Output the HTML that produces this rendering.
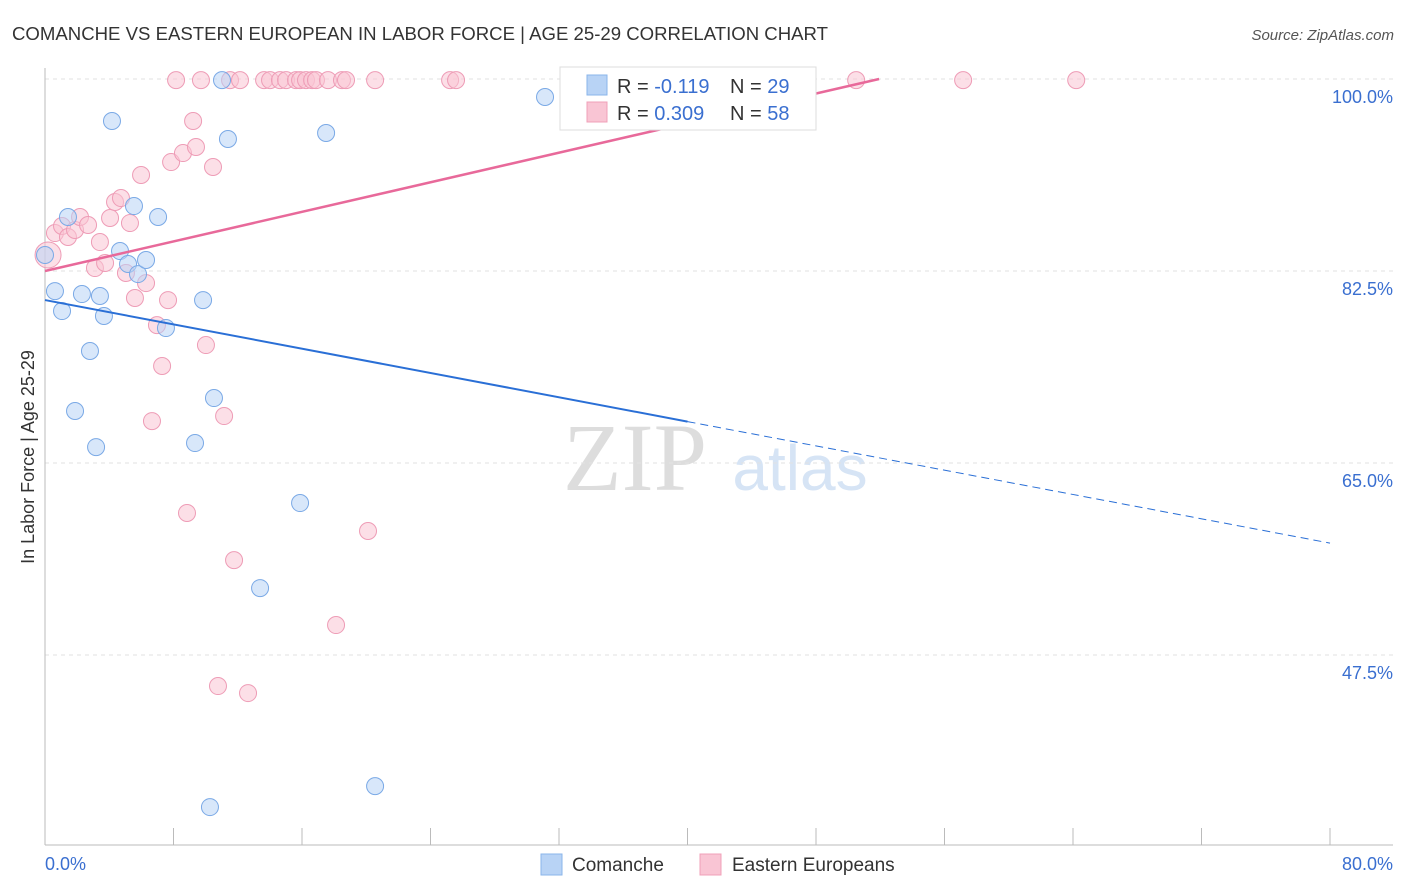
<!DOCTYPE html>
<html><head><meta charset="utf-8"><style>
body{margin:0;background:#fff;font-family:"Liberation Sans",sans-serif;}
svg{display:block}
</style></head><body>
<svg id="c" width="1406" height="892" xmlns="http://www.w3.org/2000/svg">
<text x="12" y="40" font-size="18.6" fill="#333" textLength="816">COMANCHE VS EASTERN EUROPEAN IN LABOR FORCE | AGE 25-29 CORRELATION CHART</text>
<text x="1394" y="40" font-size="15" font-style="italic" fill="#555" text-anchor="end">Source: ZipAtlas.com</text>
<text x="635" y="490" font-size="96" font-family="Liberation Serif" fill="#ddd" text-anchor="middle">ZIP</text>
<text x="800" y="490" font-size="64" fill="#d6e4f5" text-anchor="middle">atlas</text>
<text transform="translate(34,457) rotate(-90)" font-size="18" fill="#333" text-anchor="middle">In Labor Force | Age 25-29</text>
<g id="grid"></g><g id="marks"></g>
<g>
<rect x="560" y="67" width="256" height="63" fill="#fff" stroke="#ddd"/>
<rect x="587" y="75" width="20" height="20" fill="#b8d3f5" stroke="#8ab4ea"/>
<rect x="587" y="102" width="20" height="20" fill="#f9c5d4" stroke="#f0a0b8"/>
<text x="617" y="93" font-size="20" fill="#333">R = <tspan fill="#3a6fd0">-0.119</tspan><tspan x="730">N = </tspan><tspan fill="#3a6fd0">29</tspan></text>
<text x="617" y="120" font-size="20" fill="#333">R = <tspan fill="#3a6fd0">0.309</tspan><tspan x="730">N = </tspan><tspan fill="#3a6fd0">58</tspan></text>
</g>
<g>
<rect x="541" y="854" width="21" height="21" fill="#b8d3f5" stroke="#8ab4ea"/>
<text x="572" y="871" font-size="19" fill="#333">Comanche</text>
<rect x="700" y="854" width="21" height="21" fill="#f9c5d4" stroke="#f0a0b8"/>
<text x="732" y="871" font-size="19" fill="#333">Eastern Europeans</text>
</g>
<text x="45" y="870" font-size="18" fill="#3a6fd0">0.0%</text>
<text x="1393" y="870" font-size="18" fill="#3a6fd0" text-anchor="end">80.0%</text>
</svg>
<script>
const yTicks=[100,82.5,65,47.5];
const yTickLabels=["100.0%","82.5%","65.0%","47.5%"];
const blueX=[0,0.62,1.06,1.43,1.87,2.30,2.80,3.18,3.42,3.67,4.17,4.67,5.17,5.54,5.79,6.29,7.04,7.53,9.34,9.84,10.27,10.52,11.02,11.39,13.39,15.88,17.5,20.55,31.13];
const blueY=[83.96,80.67,78.85,87.42,69.74,80.40,75.21,66.45,80.22,78.40,96.17,84.32,83.14,88.42,82.22,83.50,87.42,77.30,66.82,79.85,33.64,70.92,99.9,94.53,53.60,61.35,95.08,35.55,98.36];
const pinkX=[0.19,0.62,1.06,1.43,1.87,2.18,2.68,3.11,3.42,3.74,4.05,4.36,4.73,5.04,5.29,5.60,5.98,6.29,6.66,6.97,7.29,7.66,7.85,8.16,8.59,8.84,9.22,9.40,9.71,10.02,10.46,10.77,11.15,11.52,11.77,12.14,12.64,13.64,14.01,14.63,15.01,15.63,15.88,16.25,16.63,16.87,17.62,18.12,18.49,18.74,20.11,20.55,25.22,25.59,45.02,50.5,57.16,64.2];
const pinkY=[83.96,85.96,86.6,85.6,86.24,87.42,86.69,82.77,85.14,83.23,87.33,88.79,89.15,82.32,86.87,80.04,91.25,81.4,68.82,77.57,73.84,79.85,92.43,99.9,93.25,60.44,96.17,93.8,99.9,75.75,91.98,44.67,69.28,99.9,56.15,99.9,44.03,99.9,99.9,99.9,99.9,99.9,99.9,99.9,99.9,99.9,99.9,50.23,99.9,99.9,58.8,99.9,99.9,99.9,99.9,99.9,99.9,99.9];
const blueTrend=[79.85,57.7];
const pinkTrend=[82.5,0.337];
const NS="http://www.w3.org/2000/svg";
const X=v=>45+v*1285/80, Y=v=>79+(100-v)*192/17.5;
function mk(t,a,p){const e=document.createElementNS(NS,t);for(const k in a)e.setAttribute(k,a[k]);p.appendChild(e);return e;}
const g=document.getElementById('grid'),m=document.getElementById('marks');
yTicks.forEach((t,i)=>{
 const l=mk('line',{x1:45,x2:1393,y1:Y(t),y2:Y(t),stroke:'#e2e2e2','stroke-dasharray':'4,4'},g);
 
 
 const tx=mk('text',{x:1393,y:Y(t)+24,'font-size':18,fill:'#3a6fd0','text-anchor':'end'},g);
 tx.textContent=yTickLabels[i];
 
 
});
mk('line',{x1:45,x2:45,y1:68,y2:845,stroke:'#bbb'},g);
mk('line',{x1:45,x2:1393,y1:845,y2:845,stroke:'#bbb'},g);
for(let i=0;i<=10;i++){const t=mk('line',{x1:X(i*8),x2:X(i*8),y1:828,y2:845,stroke:'#bbb'},g);
 
 }
function dots(xs,ys,fill,stroke,name){xs.forEach((x,i)=>{
 const c=mk('circle',{cx:X(x),cy:Y(ys[i]),r:(i===0&&name!=='comanche-point')?13:8.5,fill:fill,'fill-opacity':0.55,stroke:stroke,'stroke-width':1},m);
 
 });}
dots(pinkX,pinkY,'#f9c5d4','#ee9cb6','eastern-european-point');
dots(blueX,blueY,'#b8d3f5','#7aa9e6','comanche-point');
const by=x=>blueTrend[0]+(blueTrend[1]-blueTrend[0])*x/80;
let l=mk('line',{x1:X(0),y1:Y(by(0)),x2:X(40),y2:Y(by(40)),stroke:'#2a6fd6','stroke-width':2},m);


l=mk('line',{x1:X(40),y1:Y(by(40)),x2:X(80),y2:Y(by(80)),stroke:'#2a6fd6','stroke-width':1,'stroke-dasharray':'8,5'},m);


const pend=(100-pinkTrend[0])/pinkTrend[1];
l=mk('line',{x1:X(0),y1:Y(pinkTrend[0]),x2:X(pend),y2:Y(100),stroke:'#e8699a','stroke-width':2.5},m);


</script>
</body></html>
